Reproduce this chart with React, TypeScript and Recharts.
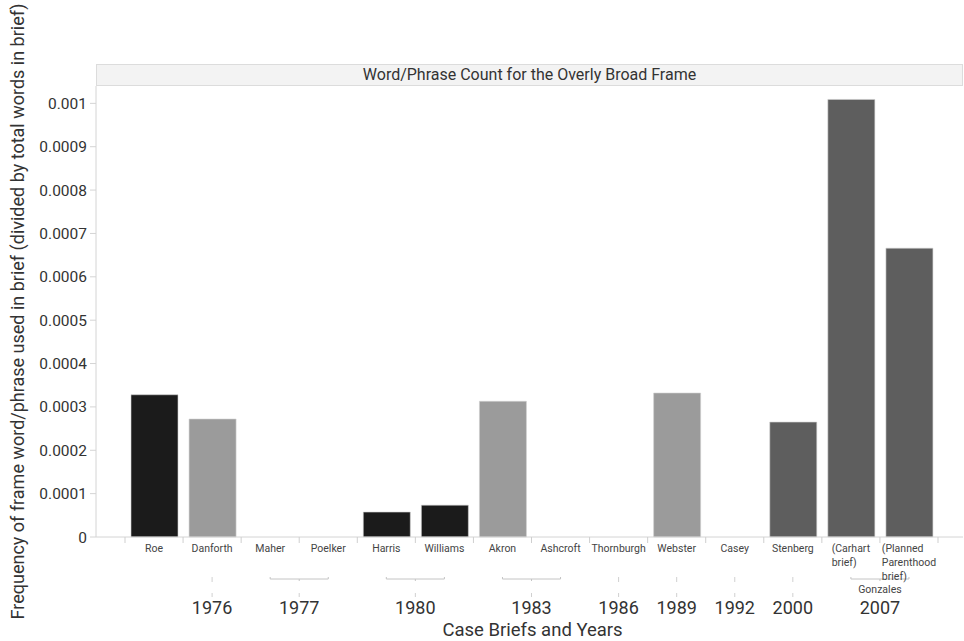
import { BarChart, Bar, XAxis, YAxis, Cell, Label } from 'recharts';

const cases = ['Roe', 'Danforth', 'Maher', 'Poelker', 'Harris', 'Williams', 'Akron', 'Ashcroft', 'Thornburgh', 'Webster', 'Casey', 'Stenberg', 'Carhart', 'Planned Parenthood'];
const caseLabels = [['Roe'], ['Danforth'], ['Maher'], ['Poelker'], ['Harris'], ['Williams'], ['Akron'], ['Ashcroft'], ['Thornburgh'], ['Webster'], ['Casey'], ['Stenberg'], ['(Carhart', 'brief)'], ['(Planned', 'Parenthood', 'brief)']];
const frequencies = [0.000328, 0.000272, 0, 0, 0.0000575, 0.0000735, 0.000313, 0, 0, 0.000332, 0, 0.000265, 0.001009, 0.000666];
const years = ['', '1976', '1977', '1977', '1980', '1980', '1983', '1983', '1986', '1989', '1992', '2000', '2007', '2007'];
const groupNames: Record<string, string> = { '2007': 'Gonzales' };
const barColors = ['#1b1b1b', '#9b9b9b', '#9b9b9b', '#9b9b9b', '#1b1b1b', '#1b1b1b', '#9b9b9b', '#9b9b9b', '#9b9b9b', '#9b9b9b', '#5e5e5e', '#5e5e5e', '#5e5e5e', '#5e5e5e'];
const yTicks = [0, 0.0001, 0.0002, 0.0003, 0.0004, 0.0005, 0.0006, 0.0007, 0.0008, 0.0009, 0.001];

const data = cases.map((c, i) => ({ name: c, value: frequencies[i], year: years[i] }));

const W = 964;
const H = 641;
const PLOT_LEFT = 96;
const PLOT_RIGHT = 963;
const PAD_L = 29;
const PAD_R = 25;
const BAND = (PLOT_RIGHT - PLOT_LEFT - PAD_L - PAD_R) / cases.length;
const FONT = 'Roboto, "Noto Sans", sans-serif';

let ctx: CanvasRenderingContext2D | null = null;
const measure = (text: string, font: string) => {
  if (!ctx) ctx = document.createElement('canvas').getContext('2d');
  if (!ctx) return text.length * 5.5;
  ctx.font = font;
  return ctx.measureText(text).width;
};

const CaseTick = (props: any) => {
  const { x, y, payload } = props;
  const i = props.index ?? payload.index;
  const lines = caseLabels[i];
  const caseFont = `10.5px ${FONT}`;
  const maxW = Math.max(...lines.map(l => measure(l, caseFont)));
  const multi = lines.length > 1;

  // year row under the case names
  const yr = years[i];
  const isStart = yr !== '' && (i === 0 || years[i - 1] !== yr);
  let span = 1;
  while (isStart && i + span < years.length && years[i + span] === yr) span++;
  const cx = x + ((span - 1) * BAND) / 2;
  const x2 = x + (span - 1) * BAND;

  return (
    <g>
      <line x1={x - BAND / 2} x2={x - BAND / 2} y1={y} y2={y + 6} stroke="#cfcfcf" />
      {i === cases.length - 1 && <line x1={x + BAND / 2} x2={x + BAND / 2} y1={y} y2={y + 6} stroke="#cfcfcf" />}
      {lines.map((l, k) => (
        <text
          key={k}
          x={multi ? x - maxW / 2 : x}
          y={y + 15 + k * 14}
          textAnchor={multi ? 'start' : 'middle'}
          fontSize={10.5}
          fontFamily={FONT}
          fill="#444"
        >
          {l}
        </text>
      ))}
      {isStart && (
        <g>
          {span > 1 ? (
            <g stroke="#c4c4c4">
              <line x1={x} x2={x2} y1={y + 42} y2={y + 42} />
              <line x1={x} x2={x} y1={y + 40} y2={y + 42} />
              <line x1={x2} x2={x2} y1={y + 40} y2={y + 42} />
              <line x1={cx} x2={cx} y1={y + 42} y2={y + 44} />
            </g>
          ) : (
            <line x1={cx} x2={cx} y1={y + 40} y2={y + 45} stroke="#d0d0d0" />
          )}
          {groupNames[yr] ? (
            <text x={cx} y={y + 56} textAnchor="middle" fontSize={10.5} fontFamily={FONT} fill="#444">
              {groupNames[yr]}
            </text>
          ) : (
            <line x1={cx} x2={cx} y1={y + 56} y2={y + 60} stroke="#d0d0d0" />
          )}
          <text x={cx} y={y + 77} textAnchor="middle" fontSize={18} fontFamily={FONT} fill="#333">
            {yr}
          </text>
        </g>
      )}
    </g>
  );
};

const XTitle = (props: any) => {
  const vb = props.viewBox;
  return (
    <text x={vb.x + vb.width / 2 + 3} y={636} textAnchor="middle" fontSize={18.5} fontFamily={FONT} fill="#333">
      Case Briefs and Years
    </text>
  );
};

const YTitle = (props: any) => {
  const vb = props.viewBox;
  const cy = vb.y + vb.height / 2;
  return (
    <text
      x={17}
      y={cy}
      transform={`rotate(-90, 17, ${cy})`}
      textAnchor="middle"
      dominantBaseline="central"
      fontSize={18}
      fontFamily={FONT}
      fill="#333"
    >
      Frequency of frame word/phrase used in brief (divided by total words in brief)
    </text>
  );
};

export default function App() {
  return (
    <div style={{ position: 'absolute', left: 0, top: 0, width: W, height: H, background: '#fff', fontFamily: FONT }}>
      <div
        style={{
          position: 'absolute',
          left: PLOT_LEFT,
          top: 64,
          width: PLOT_RIGHT - PLOT_LEFT,
          height: 22,
          boxSizing: 'border-box',
          background: '#f3f3f3',
          border: '1px solid #dcdcdc',
          textAlign: 'center',
          fontSize: 16,
          lineHeight: '20px',
          color: '#333',
        }}
      >
        Word/Phrase Count for the Overly Broad Frame
      </div>
      <BarChart width={W} height={H} data={data} margin={{ top: 86, right: W - PLOT_RIGHT, bottom: 0, left: 0 }} barSize={47}>
        <XAxis
          dataKey="name"
          height={104}
          interval={0}
          tickSize={0}
          tickMargin={0}
          tickLine={false}
          padding={{ left: PAD_L, right: PAD_R }}
          axisLine={{ stroke: '#d4d4d4' }}
          tick={<CaseTick />}
        >
          <Label content={<XTitle />} />
        </XAxis>
        <YAxis
          width={PLOT_LEFT}
          domain={[0, 0.00104]}
          ticks={yTicks}
          interval={0}
          tickSize={6}
          tickMargin={3}
          axisLine={{ stroke: '#d4d4d4' }}
          tickLine={{ stroke: '#d4d4d4' }}
          tick={{ fontSize: 15.5, fontFamily: FONT, fill: '#333' }}
        >
          <Label content={<YTitle />} />
        </YAxis>
        <Bar dataKey="value" isAnimationActive={false} stroke="#d0d0d0" strokeWidth={0.6}>
          {data.map((d, i) => (
            <Cell key={d.name} fill={barColors[i]} />
          ))}
        </Bar>
      </BarChart>
    </div>
  );
}
